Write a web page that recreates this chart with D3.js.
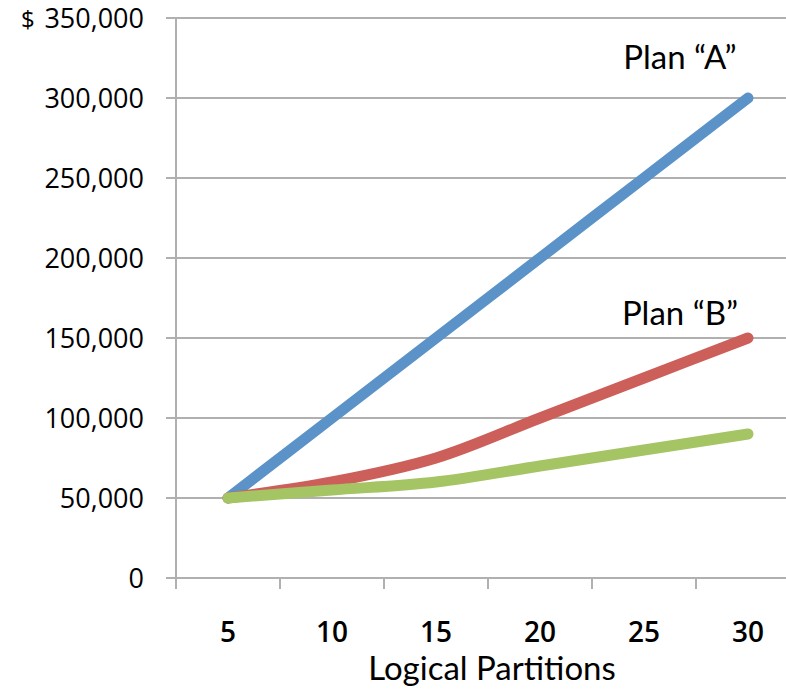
<!DOCTYPE html>
<html>
<head>
<meta charset="utf-8">
<script src="https://cdn.jsdelivr.net/npm/d3@7"></script>
<style>
  html, body { margin: 0; padding: 0; background: #fff; }
  svg { display: block; }
  text { fill: #000; }
</style>
</head>
<body>
<svg id="chart" width="786" height="692"></svg>
<script>
// Cost by number of logical partitions
const partitions = [5, 10, 15, 20, 25, 30];
const planA = [50000, 100000, 150000, 200000, 250000, 300000];
const planB = [50000, 60000, 75000, 100000, 125000, 150000];
const planC = [50000, 55000, 60000, 70000, 80000, 90000];
const yTicks = [0, 50000, 100000, 150000, 200000, 250000, 300000, 350000];
const seriesNames = ["Plan \u201CA\u201D", "Plan \u201CB\u201D", ""];
const seriesColors = ["#5b93c8", "#cd5f5a", "#a5c464"];
const xTitle = "Logical Partitions";

(function () {
  const W = 786;
  const plotLeft = 176, plotTop = 18, plotBottom = 578, step = 104;
  const sans = "Lato, 'Open Sans', sans-serif";
  const numFont = "'Open Sans', Lato, sans-serif";

  const svg = d3.select("#chart");

  const x = d3.scaleBand()
    .domain(partitions)
    .range([plotLeft, plotLeft + step * partitions.length])
    .paddingInner(0).paddingOuter(0);

  const y = d3.scaleLinear().domain([0, 350000]).range([plotBottom, plotTop]);

  const grid = "#b0b0b0";

  // horizontal gridlines with left tick stubs
  svg.append("g")
    .selectAll("line")
    .data(yTicks)
    .join("line")
    .attr("x1", plotLeft - 10)
    .attr("x2", W)
    .attr("y1", d => y(d))
    .attr("y2", d => y(d))
    .attr("stroke", grid)
    .attr("stroke-width", 2);

  // value axis line
  svg.append("line")
    .attr("x1", plotLeft).attr("x2", plotLeft)
    .attr("y1", y(350000)).attr("y2", plotBottom + 11)
    .attr("stroke", grid).attr("stroke-width", 2);

  // category tick marks at band boundaries
  const edges = partitions.map(d => x(d) + x.bandwidth());
  svg.append("g")
    .selectAll("line")
    .data(edges)
    .join("line")
    .attr("x1", d => d).attr("x2", d => d)
    .attr("y1", plotBottom).attr("y2", plotBottom + 11)
    .attr("stroke", grid).attr("stroke-width", 2);

  // y tick labels
  const fmt = d3.format(",");
  svg.append("g")
    .selectAll("text")
    .data(yTicks)
    .join("text")
    .attr("x", 144)
    .attr("y", d => y(d) + 10)
    .attr("text-anchor", "end")
    .style("font-family", numFont)
    .style("font-size", "27px")
    .text(d => fmt(d));

  svg.append("text")
    .attr("x", 21).attr("y", y(350000) + 10)
    .style("font-family", numFont)
    .style("font-size", "24px")
    .text("$");

  // x tick labels
  svg.append("g")
    .selectAll("text")
    .data(partitions)
    .join("text")
    .attr("x", d => x(d) + x.bandwidth() / 2)
    .attr("y", 642)
    .attr("text-anchor", "middle")
    .style("font-family", numFont)
    .style("font-size", "28px")
    .style("font-weight", 600)
    .text(d => d);

  svg.append("text")
    .attr("x", 492).attr("y", 680)
    .attr("text-anchor", "middle")
    .style("font-family", sans)
    .style("font-size", "33px")
    .text(xTitle);

  // series lines
  const line = d3.line()
    .x((d, i) => x(partitions[i]) + x.bandwidth() / 2)
    .y(d => y(d))
    .curve(d3.curveCatmullRom.alpha(0.5));

  const series = [planA, planB, planC];
  svg.append("g")
    .selectAll("path")
    .data(series)
    .join("path")
    .attr("d", d => line(d))
    .attr("fill", "none")
    .attr("stroke", (d, i) => seriesColors[i])
    .attr("stroke-width", 11)
    .attr("stroke-linecap", "round")
    .attr("stroke-linejoin", "round");

  // series labels above line ends
  const labelY = [69, 325];
  svg.append("g")
    .selectAll("text")
    .data(seriesNames.filter(n => n))
    .join("text")
    .attr("x", 680)
    .attr("y", (d, i) => labelY[i])
    .attr("text-anchor", "middle")
    .style("font-family", sans)
    .style("font-size", "33px")
    .text(d => d);
})();
</script>
</body>
</html>
